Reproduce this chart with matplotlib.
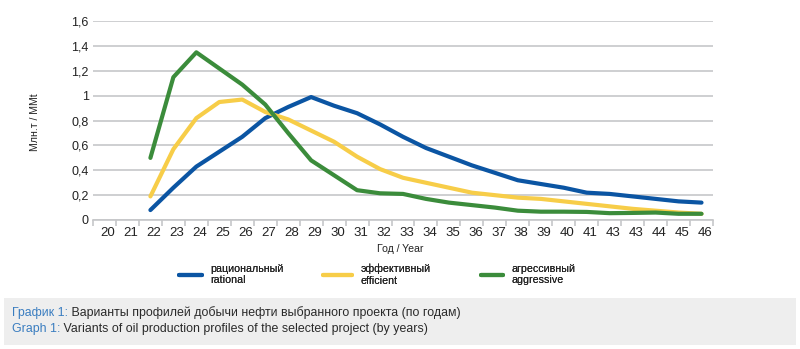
import numpy as np
import matplotlib
matplotlib.use('Agg')
import matplotlib.pyplot as plt
import matplotlib.transforms as mtransforms
from matplotlib.patches import Rectangle

plt.rcParams['font.family'] = ['Liberation Sans', 'DejaVu Sans']

nan = np.nan
years = ['20', '21', '22', '23', '24', '25', '26', '27', '28', '29', '30', '31', '32',
         '33', '34', '35', '36', '37', '38', '39', '40', '41', '43', '43', '44', '45', '46']
rational = [nan, nan, 0.08, 0.26, 0.43, 0.55, 0.67, 0.82, 0.91, 0.99, 0.92, 0.86, 0.77,
            0.67, 0.58, 0.51, 0.44, 0.38, 0.32, 0.29, 0.26, 0.22, 0.21, 0.19, 0.17, 0.15, 0.14]
efficient = [nan, nan, 0.19, 0.57, 0.82, 0.95, 0.97, 0.87, 0.81, 0.72, 0.63, 0.51, 0.41,
             0.34, 0.30, 0.26, 0.22, 0.20, 0.18, 0.17, 0.15, 0.13, 0.11, 0.09, 0.075, 0.06, 0.05]
aggressive = [nan, nan, 0.50, 1.15, 1.35, 1.22, 1.09, 0.93, 0.70, 0.48, 0.36, 0.24, 0.215,
              0.21, 0.17, 0.14, 0.12, 0.10, 0.075, 0.067, 0.067, 0.065, 0.055, 0.057, 0.06, 0.05, 0.05]
series_labels = ['рациональный\nrational', 'эффективный\nefficient', 'агрессивный\naggressive']
y_ticks = [0, 0.2, 0.4, 0.6, 0.8, 1.0, 1.2, 1.4, 1.6]
y_tick_labels = ['0', '0,2', '0,4', '0,6', '0,8', '1', '1,2', '1,4', '1,6']

colors = ['#0b55a3', '#f7cd48', '#3b8c3b']
grid_c = '#c6c7c9'

W, H = 800, 349
fig = plt.figure(figsize=(W / 100, H / 100), dpi=100)
ax = fig.add_axes([93 / W, (H - 220) / H, (713 - 93) / W, (220 - 21.3) / H])

x = np.arange(len(years))
lines = []
for vals, c in zip([rational, efficient, aggressive], colors):
    ln, = ax.plot(x, vals, color=c, lw=3, solid_capstyle='round', solid_joinstyle='round')
    lines.append(ln)

ax.set_xlim(-0.5, len(years) - 0.5)
ax.set_ylim(0, 1.6)
ax.set_yticks(y_ticks, labels=y_tick_labels)
ax.yaxis.grid(True, color=grid_c, lw=1.2)
ax.set_axisbelow(True)
for s in ['left', 'right', 'top']:
    ax.spines[s].set_visible(False)
ax.spines['bottom'].set_color(grid_c)
ax.spines['bottom'].set_linewidth(1.2)

ax.set_xticks(x, labels=years)
ax.set_xticks(np.arange(-0.5, len(years)), minor=True)
ax.tick_params(axis='x', which='major', length=0, pad=5, labelsize=9.5, labelcolor='#222222')
ax.tick_params(axis='x', which='minor', length=4, color=grid_c, width=1.2, direction='out')
ax.tick_params(axis='y', length=0, pad=3, labelsize=9, labelcolor='#222222')

off = mtransforms.ScaledTranslation(3.5 / 100, 0, fig.dpi_scale_trans)
for lab in ax.get_xticklabels():
    lab.set_transform(lab.get_transform() + off)

ax.set_ylabel('Млн.т / MMt', fontsize=7.6, color='#222222')
ax.yaxis.set_label_coords((40 - 93) / 620, (220 - 122) / 198.7)
ax.set_xlabel('Год / Year', fontsize=7.6, color='#222222', va='center')
ax.xaxis.set_label_coords((400 - 93) / 620, -(249 - 220) / 198.7)

fs_leg = 7.7
px_per_fs = fs_leg * 100 / 72
specs = [(179, 23), (323, 29), (481, 22)]
for ln, lab, (x0, hl) in zip(lines, series_labels, specs):
    leg = fig.legend([ln], [lab], loc='center left', bbox_to_anchor=(x0 / W, 1 - 274.5 / H),
                     frameon=False, fontsize=fs_leg, borderaxespad=0, borderpad=0,
                     handlelength=hl / px_per_fs, handletextpad=8.5 / px_per_fs,
                     labelspacing=0)
    for t in leg.get_texts():
        t.set_color('#222222')
        t.set_linespacing(1.2)
    fig.add_artist(leg)

fig.add_artist(Rectangle((4 / W, 1 - 345 / H), (796 - 4) / W, (345 - 298) / H,
                         transform=fig.transFigure, facecolor='#eeeeee', edgecolor='none', zorder=0))

cap_fs = 8.9
blue_c = '#3a7dc0'
for ypix, head, rest in [(313, 'График 1:', ' Варианты профилей добычи нефти выбранного проекта (по годам)'),
                         (329, 'Graph 1:', ' Variants of oil production profiles of the selected project (by years)')]:
    t1 = fig.text(12 / W, 1 - ypix / H, head, fontsize=cap_fs, color=blue_c, va='center', ha='left')
    fig.add_artist(plt.Annotation(rest, xy=(1, 0.5), xycoords=t1, va='center', ha='left',
                                  fontsize=cap_fs, color='#2a2a2a'))

fig.savefig('out.png', dpi=100)
